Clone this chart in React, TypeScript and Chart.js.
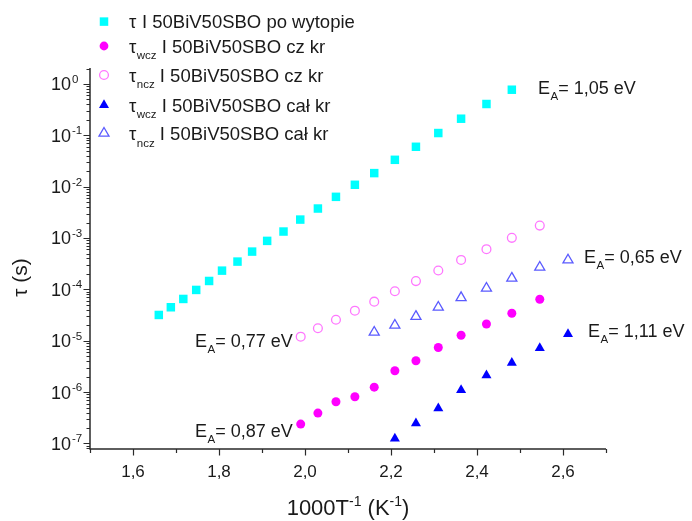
import React, { useEffect, useRef } from 'react';
import { Chart, registerables } from 'chart.js';

Chart.register(...registerables);

const FONT = '"Liberation Sans", Arial, Helvetica, sans-serif';

// ---- data (1000/T in 1/K, tau in s) ----
const xPoWytopie = [1.660, 1.688, 1.717, 1.747, 1.777, 1.807, 1.843, 1.877, 1.912, 1.950, 1.989, 2.030, 2.072, 2.116, 2.161, 2.209, 2.258, 2.310, 2.363, 2.422, 2.481];
const tauPoWytopie = [3.18e-5, 4.49e-5, 6.52e-5, 9.77e-5, 1.46e-4, 2.32e-4, 3.48e-4, 5.45e-4, 8.81e-4, 1.34e-3, 2.29e-3, 3.76e-3, 6.35e-3, 1.09e-2, 1.84e-2, 3.34e-2, 5.99e-2, 0.111, 0.211, 0.408, 0.774];

const xCzKr = [1.990, 2.030, 2.072, 2.116, 2.161, 2.209, 2.258, 2.310, 2.363, 2.422, 2.481, 2.546];
const tauWczCzKr = [2.38e-7, 3.90e-7, 6.48e-7, 8.11e-7, 1.25e-6, 2.61e-6, 4.08e-6, 7.38e-6, 1.28e-5, 2.12e-5, 3.43e-5, 6.43e-5];
const tauNczCzKr = [1.20e-5, 1.75e-5, 2.57e-5, 3.85e-5, 5.77e-5, 9.2e-5, 1.45e-4, 2.34e-4, 3.75e-4, 6.07e-4, 1.01e-3, 1.75e-3];

const xCalKrWcz = [2.209, 2.258, 2.310, 2.363, 2.422, 2.481, 2.546];
const tauWczCalKr = [1.25e-7, 2.46e-7, 4.82e-7, 1.10e-6, 2.12e-6, 3.73e-6, 7.22e-6];

const xCalKrNcz = [2.161, 2.209, 2.258, 2.310, 2.363, 2.422, 2.481, 2.546];
const tauNczCalKr = [1.46e-5, 2.0e-5, 2.97e-5, 4.49e-5, 6.9e-5, 1.05e-4, 1.65e-4, 2.70e-4];

// ---- axes ----
const xMin = 1.5;
const xMax = 2.7;
const yMin = 7.8e-8;
const yMax = 2.05;
const xTickValues = [1.6, 1.8, 2.0, 2.2, 2.4, 2.6];
const xTickLabels = ['1,6', '1,8', '2,0', '2,2', '2,4', '2,6'];
const xMinorTickValues = [1.5, 1.7, 1.9, 2.1, 2.3, 2.5, 2.7];
const yDecadeExponents = [0, -1, -2, -3, -4, -5, -6, -7];

// ---- texts ----
const legendTexts = ['I 50BiV50SBO po wytopie', 'I 50BiV50SBO cz kr', 'I 50BiV50SBO cz kr', 'I 50BiV50SBO cał kr', 'I 50BiV50SBO cał kr'];
const legendSubs = ['', 'wcz', 'ncz', 'wcz', 'ncz'];
const activationTexts = ['= 1,05 eV', '= 0,65 eV', '= 1,11 eV', '= 0,77 eV', '= 0,87 eV'];

// ---- styles ----
const COLORS = {
  cyan: '#00FFFF',
  magenta: '#FF00FF',
  pinkOpen: '#FF77FF',
  blue: '#0000FF',
  blueOpen: '#5A5AFF',
  axis: '#2a2a2a',
  text: '#1a1a1a',
};

type Marker = { style: 'rect' | 'circle' | 'triangle'; color: string; filled: boolean };
const markers: Marker[] = [
  { style: 'rect', color: COLORS.cyan, filled: true },
  { style: 'circle', color: COLORS.magenta, filled: true },
  { style: 'circle', color: COLORS.pinkOpen, filled: false },
  { style: 'triangle', color: COLORS.blue, filled: true },
  { style: 'triangle', color: COLORS.blueOpen, filled: false },
];

const legendLayout = { markerX: 104, textX: 129, baselines: [28.3, 52.7, 81.7, 111.7, 140] };
const annotationLayout = [
  { x: 538, baseline: 93.5, marker: -1, mx: 0, my: 0 },
  { x: 584, baseline: 263.3, marker: 4, mx: 568, my: 260 },
  { x: 588, baseline: 337.3, marker: 3, mx: 568, my: 334 },
  { x: 195, baseline: 346.7, marker: -1, mx: 0, my: 0 },
  { x: 195, baseline: 436.7, marker: -1, mx: 0, my: 0 },
];

function drawMarker(ctx: CanvasRenderingContext2D, m: Marker, x: number, y: number) {
  ctx.save();
  ctx.beginPath();
  if (m.style === 'rect') {
    const h = 4.25;
    ctx.rect(x - h, y - h, 2 * h, 2 * h);
  } else if (m.style === 'circle') {
    ctx.arc(x, y, 4.4, 0, Math.PI * 2);
  } else {
    const r = 5.8;
    ctx.moveTo(x, y - r);
    ctx.lineTo(x + r * 0.866, y + r / 2);
    ctx.lineTo(x - r * 0.866, y + r / 2);
    ctx.closePath();
  }
  if (m.filled) {
    ctx.fillStyle = m.color;
    ctx.fill();
  } else {
    ctx.strokeStyle = m.color;
    ctx.lineWidth = 1.3;
    ctx.stroke();
  }
  ctx.restore();
}

function setFont(ctx: CanvasRenderingContext2D, size: number) {
  ctx.font = `${size}px ${FONT}`;
}

const overlayPlugin = {
  id: 'overlay',
  beforeDatasetsDraw(chart: any) {
    const ctx: CanvasRenderingContext2D = chart.ctx;
    const { left, right, top, bottom } = chart.chartArea;
    const xs = chart.scales.x;
    const ys = chart.scales.y;
    ctx.save();
    ctx.strokeStyle = COLORS.axis;
    ctx.lineWidth = 1.5;
    // axis lines
    ctx.beginPath();
    ctx.moveTo(left, top);
    ctx.lineTo(left, bottom);
    ctx.lineTo(right, bottom);
    ctx.stroke();
    ctx.lineWidth = 1.2;
    // x ticks
    ctx.beginPath();
    xTickValues.forEach((v) => {
      const px = Math.round(xs.getPixelForValue(v)) + 0.5;
      ctx.moveTo(px, bottom);
      ctx.lineTo(px, bottom + 6.5);
    });
    xMinorTickValues.forEach((v) => {
      const px = Math.round(xs.getPixelForValue(v)) + 0.5;
      ctx.moveTo(px, bottom);
      ctx.lineTo(px, bottom + 4);
    });
    // y ticks (log)
    for (let e = -8; e <= 0; e++) {
      for (let m = 1; m <= 9; m++) {
        const v = m * Math.pow(10, e);
        if (v < yMin || v > yMax) continue;
        const py = Math.round(ys.getPixelForValue(v)) + 0.5;
        ctx.moveTo(left, py);
        ctx.lineTo(left - (m === 1 ? 6.5 : 3.5), py);
      }
    }
    ctx.stroke();
    ctx.restore();
  },
  afterDraw(chart: any) {
    const ctx: CanvasRenderingContext2D = chart.ctx;
    const { left, right, bottom } = chart.chartArea;
    const xs = chart.scales.x;
    const ys = chart.scales.y;
    ctx.save();
    ctx.fillStyle = COLORS.text;
    ctx.textBaseline = 'alphabetic';

    // x tick labels
    setFont(ctx, 17);
    ctx.textAlign = 'center';
    xTickValues.forEach((v, i) => {
      ctx.fillText(xTickLabels[i], xs.getPixelForValue(v), bottom + 27.5);
    });

    // y tick labels 10^n
    yDecadeExponents.forEach((e) => {
      const py = ys.getPixelForValue(Math.pow(10, e));
      setFont(ctx, 18);
      ctx.textAlign = 'right';
      ctx.fillText('10', left - 19, py + 6.4);
      setFont(ctx, 11.5);
      ctx.textAlign = 'left';
      ctx.fillText(e === 0 ? '0' : '-' + String(-e), left - 18, py - 1);
    });

    // x title: 1000T^-1 (K^-1)
    const parts = [
      { t: '1000T', s: 22, dy: 0 },
      { t: '-1', s: 14, dy: -9 },
      { t: ' (K', s: 22, dy: 0 },
      { t: '-1', s: 14, dy: -9 },
      { t: ')', s: 22, dy: 0 },
    ];
    let total = 0;
    parts.forEach((p) => {
      setFont(ctx, p.s);
      total += ctx.measureText(p.t).width;
    });
    let cx = (left + right) / 2 - total / 2;
    ctx.textAlign = 'left';
    parts.forEach((p) => {
      setFont(ctx, p.s);
      ctx.fillText(p.t, cx, 515 + p.dy);
      cx += ctx.measureText(p.t).width;
    });

    // y title: τ (s)
    ctx.save();
    ctx.translate(27, 277.5);
    ctx.rotate(-Math.PI / 2);
    setFont(ctx, 21);
    ctx.textAlign = 'center';
    ctx.fillText('τ (s)', 0, 0);
    ctx.restore();

    // legend
    legendTexts.forEach((txt, i) => {
      const b = legendLayout.baselines[i];
      drawMarker(ctx, markers[i], legendLayout.markerX, b - 6.7);
      ctx.fillStyle = COLORS.text;
      ctx.textAlign = 'left';
      let x = legendLayout.textX;
      setFont(ctx, 18.5);
      ctx.fillText('τ', x, b);
      x += ctx.measureText('τ').width + 0.5;
      if (legendSubs[i]) {
        setFont(ctx, 11.5);
        ctx.fillText(legendSubs[i], x, b + 6.5);
        x += ctx.measureText(legendSubs[i]).width;
      }
      setFont(ctx, 18.5);
      ctx.fillText(' ' + txt, x, b);
    });

    // activation energy labels
    activationTexts.forEach((txt, i) => {
      const a = annotationLayout[i];
      if (a.marker >= 0) drawMarker(ctx, markers[a.marker], a.mx, a.my);
      ctx.fillStyle = COLORS.text;
      ctx.textAlign = 'left';
      let x = a.x;
      setFont(ctx, 18);
      ctx.fillText('E', x, a.baseline);
      x += ctx.measureText('E').width + 0.5;
      setFont(ctx, 11.5);
      ctx.fillText('A', x, a.baseline + 6);
      x += ctx.measureText('A').width;
      setFont(ctx, 18);
      ctx.fillText(txt, x, a.baseline);
    });

    ctx.restore();
  },
};

function toPoints(xs: number[], ys: number[]) {
  return xs.map((x, i) => ({ x, y: ys[i] }));
}

export default function App() {
  const ref = useRef<HTMLCanvasElement | null>(null);

  useEffect(() => {
    if (!ref.current) return;
    const chart = new Chart(ref.current, {
      type: 'scatter',
      data: {
        datasets: [
          {
            label: 'τ I 50BiV50SBO po wytopie',
            data: toPoints(xPoWytopie, tauPoWytopie),
            pointStyle: 'rect',
            pointRadius: 6,
            backgroundColor: COLORS.cyan,
            borderColor: COLORS.cyan,
            borderWidth: 0,
          },
          {
            label: 'τwcz I 50BiV50SBO cz kr',
            data: toPoints(xCzKr, tauWczCzKr),
            pointStyle: 'circle',
            pointRadius: 4.5,
            backgroundColor: COLORS.magenta,
            borderColor: COLORS.magenta,
            borderWidth: 0,
          },
          {
            label: 'τncz I 50BiV50SBO cz kr',
            data: toPoints(xCzKr, tauNczCzKr),
            pointStyle: 'circle',
            pointRadius: 4.4,
            backgroundColor: 'rgba(0,0,0,0)',
            borderColor: COLORS.pinkOpen,
            borderWidth: 1.3,
          },
          {
            label: 'τwcz I 50BiV50SBO cał kr',
            data: toPoints(xCalKrWcz, tauWczCalKr),
            pointStyle: 'triangle',
            pointRadius: 5.8,
            backgroundColor: COLORS.blue,
            borderColor: COLORS.blue,
            borderWidth: 0,
          },
          {
            label: 'τncz I 50BiV50SBO cał kr',
            data: toPoints(xCalKrNcz, tauNczCalKr),
            pointStyle: 'triangle',
            pointRadius: 5.8,
            backgroundColor: 'rgba(0,0,0,0)',
            borderColor: COLORS.blueOpen,
            borderWidth: 1.3,
          },
        ],
      },
      options: {
        responsive: false,
        animation: false,
        devicePixelRatio: 1,
        layout: { padding: { left: 90, top: 68, right: 86, bottom: 72 } },
        scales: {
          x: { type: 'linear', min: xMin, max: xMax, display: false },
          y: { type: 'logarithmic', min: yMin, max: yMax, display: false },
        },
        plugins: {
          legend: { display: false },
          tooltip: { enabled: false },
        },
        elements: { point: { hoverRadius: 0 } },
      },
      plugins: [overlayPlugin],
    } as any);
    return () => chart.destroy();
  }, []);

  return (
    <div style={{ position: 'fixed', left: 0, top: 0, width: 692, height: 521, background: '#fff' }}>
      <canvas ref={ref} width={692} height={521} style={{ display: 'block' }} />
    </div>
  );
}
